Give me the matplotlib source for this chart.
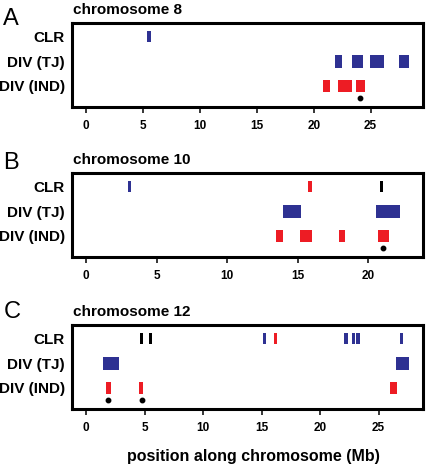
import numpy as np
import matplotlib.pyplot as plt

plt.rcParams['font.family'] = ['Liberation Sans', 'DejaVu Sans']
plt.rcParams['font.weight'] = 'bold'

BLUE = '#2e3192'
RED = '#ed1c24'
BLACK = '#000000'

rows = ['CLR', 'DIV (TJ)', 'DIV (IND)']

# chromosome 8 : (start, end) in Mb
chr8_clr_blue = [(5.4, 5.75)]
chr8_clr_red = []
chr8_clr_black = []
chr8_tj = [(21.85, 22.5), (23.35, 24.3), (24.9, 26.2), (27.45, 28.35)]
chr8_ind = [(20.8, 21.4), (22.1, 23.4), (23.7, 24.5)]
chr8_dots = [24.1]

# chromosome 10
chr10_clr_blue = [(2.98, 3.2)]
chr10_clr_red = [(15.77, 16.0)]
chr10_clr_black = [(20.85, 21.08)]
chr10_tj = [(13.95, 15.25), (20.6, 22.3)]
chr10_ind = [(13.5, 14.0), (15.2, 16.05), (17.97, 18.37), (20.7, 21.5)]
chr10_dots = [21.04]

# chromosome 12
chr12_clr_blue = [(15.15, 15.42), (22.08, 22.36), (22.77, 23.0), (23.08, 23.38), (26.85, 27.12)]
chr12_clr_red = [(16.08, 16.36)]
chr12_clr_black = [(4.6, 4.85), (5.4, 5.65)]
chr12_tj = [(1.42, 2.85), (26.5, 27.6)]
chr12_ind = [(1.68, 2.1), (4.56, 4.9), (25.98, 26.6)]
chr12_dots = [1.9, 4.76]

H = 466.0
panels = [
    ('A', 'chromosome 8', (-1.23, 29.6), [0, 5, 10, 15, 20, 25],
     chr8_clr_blue, chr8_clr_red, chr8_clr_black, chr8_tj, chr8_ind, chr8_dots,
     23, 107, 25, 14),
    ('B', 'chromosome 10', (-1.0, 23.9), [0, 5, 10, 15, 20],
     chr10_clr_blue, chr10_clr_red, chr10_clr_black, chr10_tj, chr10_ind, chr10_dots,
     173, 257, 169, 164),
    ('C', 'chromosome 12', (-1.2, 28.8), [0, 5, 10, 15, 20, 25],
     chr12_clr_blue, chr12_clr_red, chr12_clr_black, chr12_tj, chr12_ind, chr12_dots,
     325, 409, 318, 316),
]

fig = plt.figure(figsize=(4.26, 4.66), dpi=100)

for letter, title, xlim, ticks, cb, cr, ck, tj, ind, dots, top, bot, ly, ty in panels:
    ax = fig.add_axes([0.169, 1 - bot / H, 0.824, (bot - top) / H])

    def draw(segs, y, h, color):
        if segs:
            ax.barh([y] * len(segs), [e - s for s, e in segs], left=[s for s, e in segs],
                    height=h, color=color, linewidth=0)

    draw(cb, 0, 0.45, BLUE)
    draw(cr, 0, 0.45, RED)
    draw(ck, 0, 0.45, BLACK)
    draw(tj, 1, 0.5, BLUE)
    draw(ind, 2, 0.52, RED)
    ax.plot(dots, [2.5] * len(dots), 'o', color='black', markersize=3.2)

    ax.set_xlim(*xlim)
    ax.set_ylim(2.86, -0.57)
    ax.set_xticks(ticks)
    ax.set_xticklabels([str(t) for t in ticks], fontsize=8.5, fontweight='bold')
    ax.set_yticks([0, 1, 2])
    ax.set_yticklabels(rows, fontsize=11, fontweight='bold')
    ax.tick_params(axis='y', length=0, pad=5)
    ax.tick_params(axis='x', length=4.5, width=1.1, pad=5, direction='out')
    for sp in ax.spines.values():
        sp.set_linewidth(2.2)

    fig.text(0.008, 1 - ly / H, letter, fontsize=17, fontweight='normal',
             va='baseline', ha='left')
    fig.text(0.171, 1 - ty / H, title, fontsize=11, fontweight='bold',
             va='baseline', ha='left')

fig.text(0.595, 1 - 461 / H, 'position along chromosome (Mb)', fontsize=11.5, fontweight='bold',
         ha='center', va='baseline')

fig.savefig('out.png', dpi=100)
